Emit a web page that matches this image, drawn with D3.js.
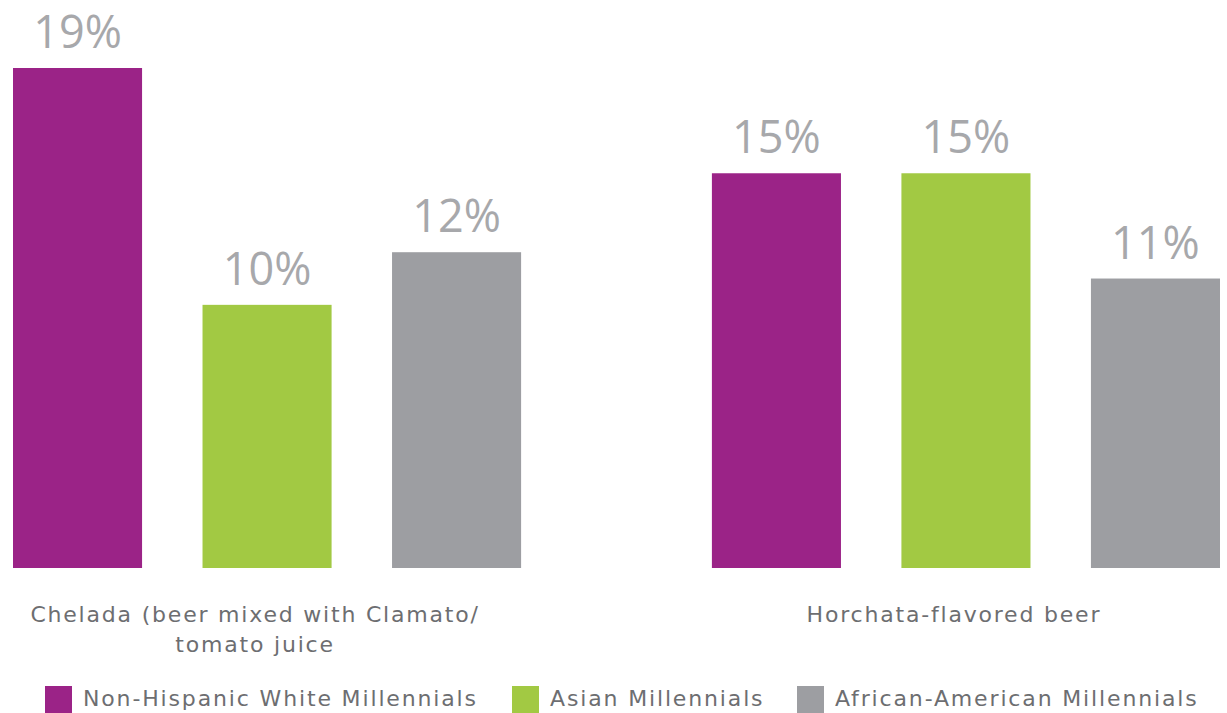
<!DOCTYPE html>
<html>
<head>
<meta charset="utf-8">
<script src="https://cdn.jsdelivr.net/npm/d3@7"></script>
<style>
  html, body { margin: 0; padding: 0; background: #ffffff; }
  svg { display: block; }
  text { font-family: "DejaVu Sans", sans-serif; }
  text.value { font-family: "Open Sans", sans-serif; }
</style>
</head>
<body>
<script>
// Share of millennials who have tried each beer style, by group
const categories = ["Chelada (beer mixed with Clamato/\ntomato juice", "Horchata-flavored beer"];
const seriesNames = ["Non-Hispanic White Millennials", "Asian Millennials", "African-American Millennials"];
const whiteValues = [19, 15];
const asianValues = [10, 15];
const africanAmericanValues = [12, 11];
const seriesColors = ["#9b2387", "#a2c943", "#9d9ea2"];

const W = 1227, H = 713;
const svg = d3.select("body").append("svg").attr("width", W).attr("height", H);

const seriesValues = [whiteValues, asianValues, africanAmericanValues];

const x0 = d3.scaleBand().domain(categories).range([13, 1220]).paddingInner(0.273).paddingOuter(0);
const x1 = d3.scaleBand().domain(seriesNames).range([0, x0.bandwidth()]).paddingInner(0.319).paddingOuter(0);
const y = d3.scaleLinear().domain([0, 19]).range([568, 68]);

const groups = svg.selectAll("g.group")
  .data(categories)
  .join("g")
  .attr("class", "group")
  .attr("transform", d => `translate(${x0(d)},0)`);

groups.each(function(cat, ci) {
  const g = d3.select(this);
  const rows = seriesNames.map((s, si) => ({ s, si, v: seriesValues[si][ci] }));
  g.selectAll("rect")
    .data(rows)
    .join("rect")
    .attr("x", d => x1(d.s))
    .attr("y", d => y(d.v))
    .attr("width", x1.bandwidth())
    .attr("height", d => y(0) - y(d.v))
    .attr("fill", d => seriesColors[d.si]);
  g.selectAll("text.value")
    .data(rows)
    .join("text")
    .attr("class", "value")
    .attr("x", d => x1(d.s) + x1.bandwidth() / 2)
    .attr("y", d => y(d.v) - 20)
    .attr("text-anchor", "middle")
    .attr("fill", "#a7a8ab")
    .attr("font-size", 45)
    .text(d => d.v + "%");

  // category label, possibly wrapped over two lines
  const lines = cat.split("\n");
  const label = g.append("text")
    .attr("text-anchor", "middle")
    .attr("fill", "#6d6e71")
    .attr("font-size", 22)
    .attr("letter-spacing", 1.8);
  lines.forEach((ln, i) => {
    label.append("tspan")
      .attr("x", x0.bandwidth() / 2 - 12)
      .attr("y", 622 + i * 30)
      .text(ln);
  });
});

// legend
const legendX = [45, 512, 797];
const legend = svg.selectAll("g.legend")
  .data(seriesNames)
  .join("g")
  .attr("class", "legend")
  .attr("transform", (d, i) => `translate(${legendX[i]},686)`);
legend.append("rect")
  .attr("width", 27).attr("height", 27)
  .attr("fill", (d, i) => seriesColors[i]);
legend.append("text")
  .attr("x", 38).attr("y", 20)
  .attr("fill", "#6d6e71")
  .attr("font-size", 22)
  .attr("letter-spacing", 1.85)
  .text(d => d);
</script>
</body>
</html>
